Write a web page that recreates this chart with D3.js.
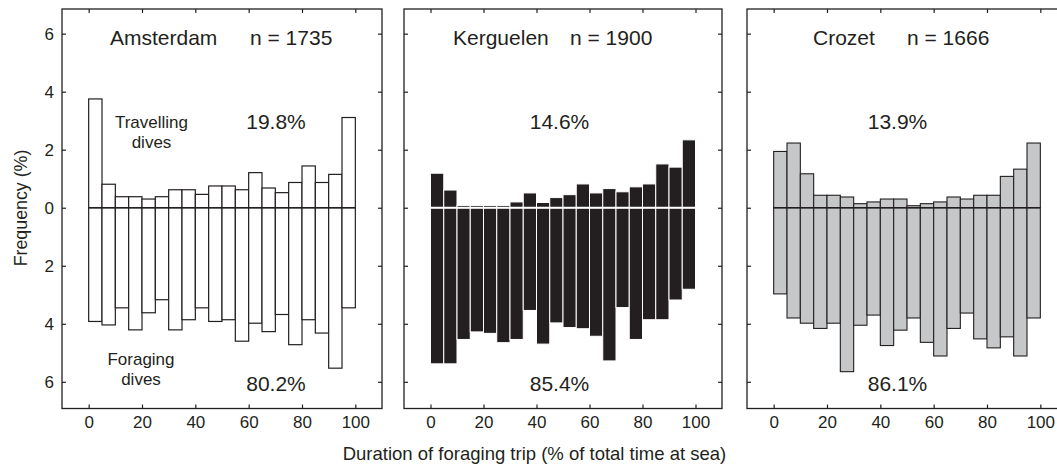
<!DOCTYPE html>
<html>
<head>
<meta charset="utf-8">
<script src="https://cdn.jsdelivr.net/npm/d3@7"></script>
<style>
  html, body { margin: 0; padding: 0; background: #fff; }
  svg { display: block; font-family: "Liberation Sans", Arial, Helvetica, sans-serif; }
</style>
</head>
<body>
<svg id="chart" width="1057" height="469"></svg>
<script>
// 5% bins of trip duration (left edge of each bin)
const binStart = [0, 5, 10, 15, 20, 25, 30, 35, 40, 45, 50, 55, 60, 65, 70, 75, 80, 85, 90, 95];
const binWidth = 5;

const colonies = ["Amsterdam", "Kerguelen", "Crozet"];
const sampleSizes = [1735, 1900, 1666];

// Frequency (%) of travelling dives per bin
const travelAmsterdam = [3.75, 0.81, 0.38, 0.38, 0.30, 0.38, 0.62, 0.62, 0.46, 0.75, 0.75, 0.62, 1.21, 0.68, 0.52, 0.87, 1.44, 0.87, 1.15, 3.11];
const travelKerguelen = [1.19, 0.61, 0.08, 0.08, 0.08, 0.08, 0.20, 0.51, 0.18, 0.35, 0.45, 0.82, 0.51, 0.66, 0.55, 0.72, 0.82, 1.51, 1.40, 2.34];
const travelCrozet    = [1.94, 2.23, 1.17, 0.43, 0.43, 0.37, 0.14, 0.20, 0.30, 0.30, 0.07, 0.14, 0.20, 0.37, 0.30, 0.43, 0.43, 1.08, 1.33, 2.23];

// Frequency (%) of foraging dives per bin (drawn downward)
const forageAmsterdam = [3.92, 4.04, 3.45, 4.21, 3.62, 3.17, 4.21, 3.86, 3.45, 3.92, 3.86, 4.60, 3.98, 4.27, 3.68, 4.72, 3.86, 4.32, 5.53, 3.45];
const forageKerguelen = [5.38, 5.38, 4.54, 4.28, 4.33, 4.65, 4.54, 3.54, 4.70, 3.97, 4.13, 4.17, 4.43, 5.28, 3.44, 4.54, 3.86, 3.86, 3.18, 2.81];
const forageCrozet    = [2.97, 3.80, 3.98, 4.16, 3.98, 5.65, 4.05, 3.70, 4.75, 4.22, 3.80, 4.64, 5.11, 4.16, 3.63, 4.52, 4.83, 4.45, 5.11, 3.80];

const travelPct = ["19.8%", "14.6%", "13.9%"];
const foragePct = ["80.2%", "85.4%", "86.1%"];

const xTicks = [0, 20, 40, 60, 80, 100];
const yTicks = [-6, -4, -2, 0, 2, 4, 6];

const travel = [travelAmsterdam, travelKerguelen, travelCrozet];
const forage = [forageAmsterdam, forageKerguelen, forageCrozet];

// Panel layout
const ink = "#231f20";
const panelLeft = [62, 404, 747];
const panelRight = [382, 722, 1067];
const plotTop = 9, plotBottom = 408.5;
const styles = [
  { fill: "#ffffff", stroke: ink, zero: ink, zeroW: 1.4, barW: 1.2 },
  { fill: ink, stroke: "#ffffff", zero: "#ffffff", zeroW: 2, barW: 1 },
  { fill: "#c6c7c9", stroke: ink, zero: ink, zeroW: 1.4, barW: 1.1 }
];
const titlePos = [[110, 250], [453, 570], [813, 907]];
const pctX = [276, 559.5, 897.5];

const svg = d3.select("#chart");

colonies.forEach((name, i) => {
  const w = panelRight[i] - panelLeft[i];
  const h = plotBottom - plotTop;
  const g = svg.append("g").attr("transform", `translate(${panelLeft[i]},${plotTop})`);
  const x = d3.scaleLinear().domain([-10, 110]).range([0, w]);
  const y = d3.scaleLinear().domain([-6.92, 6.85]).range([h, 0]);
  const st = styles[i];

  const rows = binStart.map((b, k) => ({ b, up: travel[i][k], down: forage[i][k] }));

  // travelling dives (upward)
  g.selectAll("rect.up").data(rows).join("rect")
    .attr("class", "up")
    .attr("x", d => x(d.b))
    .attr("width", d => x(d.b + binWidth) - x(d.b))
    .attr("y", d => y(d.up))
    .attr("height", d => y(0) - y(d.up))
    .attr("fill", st.fill).attr("stroke", st.stroke).attr("stroke-width", st.barW);

  // foraging dives (downward)
  g.selectAll("rect.down").data(rows).join("rect")
    .attr("class", "down")
    .attr("x", d => x(d.b))
    .attr("width", d => x(d.b + binWidth) - x(d.b))
    .attr("y", y(0))
    .attr("height", d => y(-d.down) - y(0))
    .attr("fill", st.fill).attr("stroke", st.stroke).attr("stroke-width", st.barW);

  // zero line across the bins
  g.append("line")
    .attr("x1", x(binStart[0])).attr("x2", x(binStart[binStart.length - 1] + binWidth))
    .attr("y1", y(0)).attr("y2", y(0))
    .attr("stroke", st.zero).attr("stroke-width", st.zeroW);

  // axes with inward ticks on all four sides
  const fmtAbs = d => Math.abs(d);
  const axB = g.append("g").attr("transform", `translate(0,${h})`)
    .call(d3.axisBottom(x).tickValues(xTicks).tickSize(-4).tickSizeOuter(0).tickPadding(7.5));
  const axT = g.append("g")
    .call(d3.axisTop(x).tickValues(xTicks).tickSize(-4).tickSizeOuter(0).tickFormat(""));
  const axL = g.append("g")
    .call(d3.axisLeft(y).tickValues(yTicks).tickSize(-4).tickSizeOuter(0).tickPadding(8)
      .tickFormat(i === 0 ? fmtAbs : ""));
  const axR = g.append("g").attr("transform", `translate(${w},0)`)
    .call(d3.axisRight(y).tickValues(yTicks).tickSize(-4).tickSizeOuter(0).tickFormat(""));

  [axB, axT, axL, axR].forEach(a => {
    a.select(".domain").remove();
    a.selectAll(".tick line").attr("stroke", ink).attr("stroke-width", 1.2);
    a.selectAll(".tick text").attr("fill", ink).attr("font-size", 17)
      .attr("font-family", "Liberation Sans, Arial, sans-serif");
  });

  // frame
  g.append("rect").attr("x", 0).attr("y", 0).attr("width", w).attr("height", h)
    .attr("fill", "none").attr("stroke", ink).attr("stroke-width", 1.3);

  // titles
  svg.append("text").attr("x", titlePos[i][0]).attr("y", 44.5)
    .attr("font-size", 21).attr("fill", ink).text(name);
  svg.append("text").attr("x", titlePos[i][1]).attr("y", 44.5)
    .attr("font-size", 21).attr("fill", ink).text(`n = ${sampleSizes[i]}`);

  // share of dives
  svg.append("text").attr("x", pctX[i]).attr("y", 128.5).attr("text-anchor", "middle")
    .attr("font-size", 21).attr("fill", ink).text(travelPct[i]);
  svg.append("text").attr("x", pctX[i]).attr("y", 390.5).attr("text-anchor", "middle")
    .attr("font-size", 21).attr("fill", ink).text(foragePct[i]);
});

// dive type annotations in the first panel
const note = (lines, cx, y0) => {
  const t = svg.append("text").attr("text-anchor", "middle").attr("font-size", 17).attr("fill", ink);
  lines.forEach((s, k) => t.append("tspan").attr("x", cx).attr("y", y0 + k * 20).text(s));
};
note(["Travelling", "dives"], 151.5, 128);
note(["Foraging", "dives"], 141, 365);

// axis titles
svg.append("text").attr("x", 534.5).attr("y", 460).attr("text-anchor", "middle")
  .attr("font-size", 18.5).attr("fill", ink)
  .text("Duration of foraging trip (% of total time at sea)");
svg.append("text").attr("transform", "translate(27,208) rotate(-90)").attr("text-anchor", "middle")
  .attr("font-size", 17.8).attr("fill", ink)
  .text("Frequency (%)");
</script>
</body>
</html>
